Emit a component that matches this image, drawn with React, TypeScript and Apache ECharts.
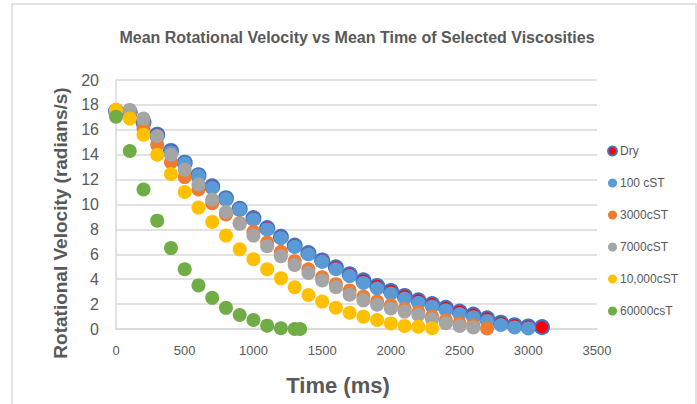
import React, { useEffect, useRef } from "react";
import * as echarts from "echarts";

const seriesNames = ["Dry", "100 cST", "3000cST", "7000cST", "10,000cST", "60000csT"];
const seriesColors = ["#FF0000", "#5B9BD5", "#ED7D31", "#A5A5A5", "#FFC000", "#70AD47"];

const times = [
  0, 100, 200, 300, 400, 500, 600, 700, 800, 900, 1000, 1100, 1200, 1300, 1400, 1500,
  1600, 1700, 1800, 1900, 2000, 2100, 2200, 2300, 2400, 2500, 2600, 2700, 2800, 2900, 3000, 3100,
];
const greenTimes = [0, 100, 200, 300, 400, 500, 600, 700, 800, 900, 1000, 1100, 1200, 1300, 1340];

const dryValues = [
  17.5, 17.4, 16.6, 15.6, 14.3, 13.35, 12.35, 11.45, 10.5, 9.65, 8.9, 8.1, 7.4, 6.7, 6.1, 5.5,
  4.95, 4.4, 3.9, 3.45, 3.05, 2.65, 2.3, 2.0, 1.7, 1.4, 1.15, 0.85, 0.5, 0.3, 0.2, 0.15,
];
const cst100Values = [
  17.5, 17.3, 16.5, 15.4, 14.2, 13.3, 12.3, 11.35, 10.45, 9.6, 8.8, 8.0, 7.3, 6.6, 6.0, 5.4,
  4.8, 4.25, 3.7, 3.25, 2.85, 2.45, 2.1, 1.8, 1.5, 1.2, 0.95, 0.65, 0.32, 0.13, 0.05,
];
const cst3000Values = [
  17.4, 17.2, 16.1, 14.8, 13.4, 12.2, 11.2, 10.1, 9.2, 8.5, 7.8, 6.95, 6.2, 5.45, 4.8, 4.15,
  3.6, 3.1, 2.6, 2.2, 1.9, 1.6, 1.35, 1.0, 0.7, 0.45, 0.3, 0.05,
];
const cst7000Values = [
  17.5, 17.6, 16.9, 15.5, 14.0, 12.8, 11.6, 10.4, 9.4, 8.45, 7.5, 6.65, 5.85, 5.15, 4.5, 3.9,
  3.35, 2.75, 2.3, 1.95, 1.65, 1.4, 1.12, 0.78, 0.46, 0.24, 0.13,
];
const cst10000Values = [
  17.6, 16.9, 15.6, 14.0, 12.45, 11.0, 9.75, 8.6, 7.5, 6.4, 5.6, 4.8, 4.07, 3.35, 2.73, 2.2,
  1.71, 1.31, 0.99, 0.72, 0.45, 0.25, 0.19, 0.06,
];
const cst60000Values = [17.05, 14.3, 11.2, 8.7, 6.5, 4.8, 3.5, 2.5, 1.7, 1.12, 0.72, 0.27, 0.06, 0.0, 0.0];

const xTickValues = [0, 500, 1000, 1500, 2000, 2500, 3000, 3500];
const yTickValues = [0, 2, 4, 6, 8, 10, 12, 14, 16, 18, 20];

const titleText = "Mean Rotational Velocity vs Mean Time of Selected Viscosities";
const xAxisTitle = "Time (ms)";
const yAxisTitle = "Rotational Velocity (radians/s)";

const FONT = "'Liberation Sans', Arial, sans-serif";
const TEXT = "#595959";
const GRID = "#D9D9D9";

function pairs(ts: number[], vs: number[]) {
  return vs.map((v, i) => [ts[i], v]);
}

export default function App() {
  const ref = useRef<HTMLDivElement>(null);
  useEffect(() => {
    if (!ref.current) return;
    const chart = echarts.init(ref.current, undefined, { renderer: "svg" });
    const valueSets = [dryValues, cst100Values, cst3000Values, cst7000Values, cst10000Values, cst60000Values];
    const series = valueSets.map((vals, i) => ({
      name: seriesNames[i],
      type: "scatter",
      symbol: "circle",
      symbolSize: 14,
      data: pairs(i === 5 ? greenTimes : times, vals),
      itemStyle:
        i === 0
          ? { color: seriesColors[i], borderColor: "#4472C4", borderWidth: 2, opacity: 1 }
          : { color: seriesColors[i], opacity: 1 },
      emphasis: { disabled: true },
    }));
    chart.setOption({
      animation: false,
      backgroundColor: "#FFFFFF",
      textStyle: { fontFamily: FONT },
      grid: { left: 116, right: 100, top: 80, bottom: 75, containLabel: false },
      xAxis: {
        type: "value",
        min: xTickValues[0],
        max: xTickValues[xTickValues.length - 1],
        interval: 500,
        axisLine: { show: true, lineStyle: { color: GRID, width: 1.5 } },
        axisTick: { show: false },
        splitLine: { show: false },
        axisLabel: { color: TEXT, fontSize: 13, fontFamily: FONT, margin: 15, formatter: (v: number) => String(v) },
      },
      yAxis: {
        type: "value",
        min: yTickValues[0],
        max: yTickValues[yTickValues.length - 1],
        interval: 2,
        axisLine: { show: true, lineStyle: { color: GRID, width: 1.5 } },
        axisTick: { show: false },
        splitLine: { show: true, lineStyle: { color: GRID, width: 1.5 } },
        axisLabel: { color: TEXT, fontSize: 16, fontFamily: FONT, margin: 17, formatter: (v: number) => String(v) },
      },
      legend: {
        orient: "vertical",
        left: 602,
        top: 140,
        itemWidth: 9,
        itemHeight: 9,
        itemGap: 20,
        icon: "circle",
        textStyle: { color: TEXT, fontSize: 12, fontFamily: FONT, padding: [0, 0, 0, -2] },
        data: seriesNames,
      },
      graphic: [
        {
          type: "rect",
          shape: { x: 12, y: 4, width: 684, height: 440 },
          style: { fill: "none", stroke: GRID, lineWidth: 1.5 },
          silent: true,
        },
        {
          type: "text",
          x: 357,
          y: 37,
          style: { text: titleText, fill: TEXT, fontSize: 16, fontWeight: "bold", fontFamily: FONT, align: "center", verticalAlign: "middle" },
        },
        {
          type: "text",
          x: 338,
          y: 385,
          style: { text: xAxisTitle, fill: TEXT, fontSize: 22, fontWeight: "bold", fontFamily: FONT, align: "center", verticalAlign: "middle" },
        },
        {
          type: "text",
          x: 60,
          y: 223,
          rotation: Math.PI / 2,
          style: { text: yAxisTitle, fill: TEXT, fontSize: 19, fontWeight: "bold", fontFamily: FONT, align: "center", verticalAlign: "middle" },
        },
      ],
      series,
    });
    return () => chart.dispose();
  }, []);
  return <div ref={ref} style={{ position: "fixed", left: 0, top: 0, width: 697, height: 404 }} />;
}
